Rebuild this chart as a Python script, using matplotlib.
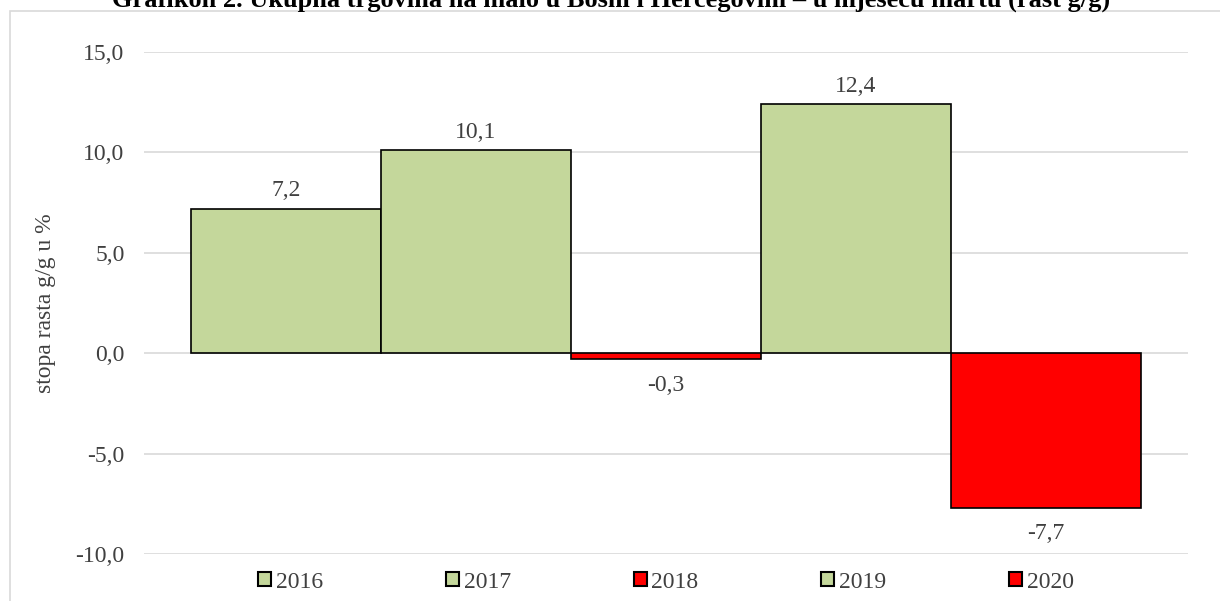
import matplotlib.pyplot as plt
from matplotlib.patches import Rectangle, Patch

years = ['2016', '2017', '2018', '2019', '2020']
values = [7.2, 10.1, -0.3, 12.4, -7.7]
colors = ['#c4d79b' if v >= 0 else '#ff0000' for v in values]
yticks = [-10, -5, 0, 5, 10, 15]

plt.rcParams['font.family'] = ['Liberation Serif', 'DejaVu Serif']

fig = plt.figure(figsize=(12.2, 6.01), dpi=100)
ax = fig.add_axes([144 / 1220, 1 - 554 / 601, 1044 / 1220, 502 / 601])

# chart frame
fig.patches.append(Rectangle((10 / 1220, -0.05), 1.1, 1 - 11 / 601 + 0.05,
                             transform=fig.transFigure, fill=False,
                             edgecolor='#d9d9d9', linewidth=1.2))

x = range(len(years))
ax.bar(x, values, width=1.0, color=colors, edgecolor='black', linewidth=1.2, zorder=3)

for i, v in enumerate(values):
    lbl = f'{v:.1f}'.replace('.', ',')
    if v >= 0:
        ax.annotate(lbl, (i, v), xytext=(0, 9), textcoords='offset points',
                    ha='center', va='baseline', fontsize=17, color='#404040')
    else:
        ax.annotate(lbl, (i, v), xytext=(0, -11), textcoords='offset points',
                    ha='center', va='top', fontsize=17, color='#404040')

ax.set_xlim(-0.5 - 47 / 190, 4.5 + 47 / 190)
ax.set_ylim(-10, 15)
ax.set_yticks(yticks)
ax.set_yticklabels([f'{t:.1f}'.replace('.', ',') for t in yticks], fontsize=17, color='#404040')
ax.set_xticks([])
ax.tick_params(axis='y', length=0, pad=14)
ax.yaxis.grid(True, color='#d9d9d9', linewidth=1.2, zorder=0)
for s in ax.spines.values():
    s.set_visible(False)
ax.set_ylabel('stopa rasta g/g u %', fontsize=17, color='#404040', labelpad=14)

handles = [Patch(facecolor=c, edgecolor='black', linewidth=1.5) for c in colors]
fig.legend(handles, years, loc='center', bbox_to_anchor=(666 / 1220, 1 - 582 / 601), ncol=5,
           frameon=False, fontsize=17, handlelength=0.55, handleheight=0.55,
           handletextpad=0.2, columnspacing=5.2, labelcolor='#404040')

fig.text(611 / 1220, 1 - 7 / 601,
         'Grafikon 2. Ukupna trgovina na malo u Bosni i Hercegovini – u mjesecu martu (rast g/g)',
         ha='center', va='baseline', fontsize=19, fontweight='bold')

fig.savefig('out.png', dpi=100)
